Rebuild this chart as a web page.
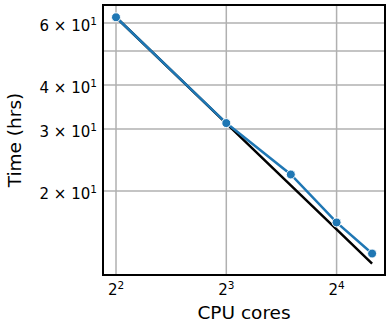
<!DOCTYPE html>
<html>
<head>
<meta charset="utf-8">
<script src="https://cdn.jsdelivr.net/npm/d3@7"></script>
<style>
  body { margin: 0; background: #fff; }
  svg { display: block; font-family: "DejaVu Sans", sans-serif; }
</style>
</head>
<body>
<div id="chart"></div>
<script>
const cores = [4, 8, 12, 16, 20];
const hours = [62.3, 31.2, 22.3, 16.3, 13.3];
const xTicks = [4, 8, 16];
const yTicks = [20, 30, 40, 60];
const yGrid = [20, 30, 40, 50, 60];

const width = 390;
const height = 330;
const margin = { top: 5, right: 5, bottom: 55, left: 103 };

const svg = d3
  .select("#chart")
  .append("svg")
  .attr("width", width)
  .attr("height", height);

const x = d3
  .scaleLog()
  .base(2)
  .domain([3.686, 21.69])
  .range([margin.left, width - margin.right]);
const y = d3
  .scaleLog()
  .domain([11.56, 67.5])
  .range([height - margin.bottom, margin.top]);

// ideal scaling from the first run
const ideal = cores.map((c) => ({ c, t: (hours[0] * cores[0]) / c }));

// grid
svg
  .append("g")
  .selectAll("line")
  .data(xTicks)
  .join("line")
  .attr("x1", (d) => x(d))
  .attr("x2", (d) => x(d))
  .attr("y1", y.range()[0])
  .attr("y2", y.range()[1])
  .attr("stroke", "#b0b0b0")
  .attr("stroke-width", 1.5);
svg
  .append("g")
  .selectAll("line")
  .data(yGrid)
  .join("line")
  .attr("x1", x.range()[0])
  .attr("x2", x.range()[1])
  .attr("y1", (d) => y(d))
  .attr("y2", (d) => y(d))
  .attr("stroke", "#b0b0b0")
  .attr("stroke-width", 1.5);

const line = d3
  .line()
  .x((d) => x(d[0]))
  .y((d) => y(d[1]));

svg
  .append("path")
  .datum(ideal.map((d) => [d.c, d.t]))
  .attr("d", line)
  .attr("fill", "none")
  .attr("stroke", "#000")
  .attr("stroke-width", 2.5);

svg
  .append("path")
  .datum(cores.map((c, i) => [c, hours[i]]))
  .attr("d", line)
  .attr("fill", "none")
  .attr("stroke", "#1f77b4")
  .attr("stroke-width", 2.5);

svg
  .append("g")
  .selectAll("circle")
  .data(cores)
  .join("circle")
  .attr("cx", (d) => x(d))
  .attr("cy", (d, i) => y(hours[i]))
  .attr("r", 4.5)
  .attr("fill", "#1f77b4")
  .attr("stroke", "#fff")
  .attr("stroke-width", 1);

// frame
svg
  .append("rect")
  .attr("x", x.range()[0])
  .attr("y", y.range()[1])
  .attr("width", x.range()[1] - x.range()[0])
  .attr("height", y.range()[0] - y.range()[1])
  .attr("fill", "none")
  .attr("stroke", "#000")
  .attr("stroke-width", 2);

// x tick labels, 2^n
const xl = svg
  .append("g")
  .selectAll("text")
  .data(xTicks)
  .join("text")
  .attr("x", (d) => x(d))
  .attr("y", 295)
  .attr("text-anchor", "middle")
  .attr("font-size", 15);
xl.append("tspan").text("2");
xl.append("tspan")
  .attr("dy", -6)
  .attr("font-size", 10.5)
  .text((d) => Math.log2(d));

// y tick labels, m × 10^1
const yl = svg
  .append("g")
  .selectAll("text")
  .data(yTicks)
  .join("text")
  .attr("x", 97)
  .attr("y", (d) => y(d) + 8)
  .attr("text-anchor", "end")
  .attr("font-size", 15);
yl.append("tspan").text((d) => `${d / 10} × 10`);
yl.append("tspan")
  .attr("dy", -6)
  .attr("font-size", 10.5)
  .text("1");

svg
  .append("text")
  .attr("x", (x.range()[0] + x.range()[1]) / 2)
  .attr("y", 319)
  .attr("text-anchor", "middle")
  .attr("font-size", 18.5)
  .text("CPU cores");

svg
  .append("text")
  .attr("transform", `translate(21,${(y.range()[0] + y.range()[1]) / 2}) rotate(-90)`)
  .attr("text-anchor", "middle")
  .attr("font-size", 18.5)
  .text("Time (hrs)");
</script>
</body>
</html>
